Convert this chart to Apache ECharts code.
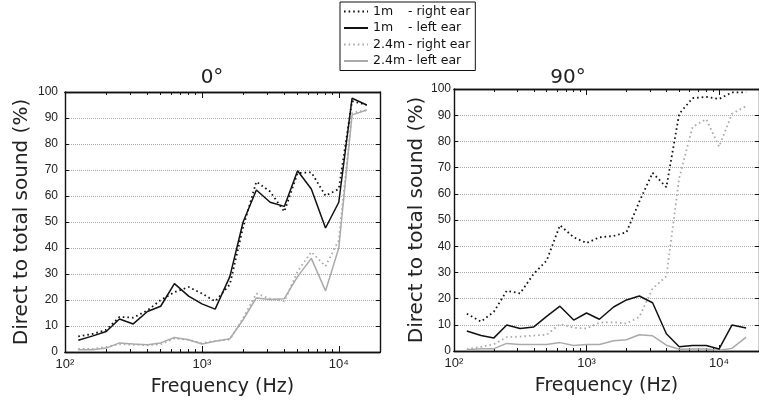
<!DOCTYPE html>
<html>
<head>
<meta charset="utf-8">
<script src="https://cdn.jsdelivr.net/npm/echarts@6/dist/echarts.min.js"></script>
<style>
  html, body { margin: 0; padding: 0; background: #fff; }
  #chart { width: 759px; height: 404px; }
</style>
</head>
<body>
<div id="chart"></div>
<script>
// third-octave band centres (Hz)
const freqs = [125, 160, 200, 250, 315, 400, 500, 630, 800, 1000, 1250, 1600,
  2000, 2500, 3150, 4000, 5000, 6300, 8000, 10000, 12500, 16000];

// 0 degrees
const right1m0 = [6, 7, 8.5, 13.5, 13.2, 16, 20, 23, 25, 22.5, 19.5, 26,
  48, 65.5, 61.7, 54, 68.8, 69.1, 60.1, 62.7, 96.5, 95];
const left1m0 = [4.5, 6.2, 7.9, 12.7, 10.8, 15.6, 17.6, 26.3, 21.5, 18.5, 16.5, 29,
  50, 62.3, 57.6, 56, 69.7, 62.7, 47.7, 57.6, 97.6, 95];
const right24m0 = [1.2, 1.2, 2, 3.0, 2.8, 2.6, 3.0, 5.2, 4.7, 3.4, 4.2, 4.8,
  13, 22.5, 20.5, 19.5, 31, 38.5, 33, 43, 92, 93];
const left24m0 = [0.9, 0.9, 1.5, 3.5, 3.1, 2.8, 3.5, 5.6, 4.7, 3.1, 4.1, 5.1,
  12.4, 20.8, 20.2, 20.5, 29, 36, 23.5, 40, 91.2, 93.1];

// 90 degrees
const right1m90 = [14.2, 11.2, 15, 23, 22, 29.5, 34.5, 48, 43.4, 41.2, 43.4, 43.9,
  45.3, 57, 68, 62.5, 90.5, 96.5, 97, 96.2, 98.7, 98.7];
const left1m90 = [7.6, 5.9, 5.0, 9.9, 8.6, 9.2, 13.2, 17.1, 11.8, 14.5, 12.1, 16.8,
  19.5, 21.0, 18.4, 6.6, 1.6, 2.1, 2.1, 0.8, 9.9, 8.8];
const right24m90 = [0.7, 1.6, 2.6, 5.3, 5.5, 5.9, 6.2, 10.3, 8.9, 8.6, 10.8, 11,
  10.5, 13, 23.8, 28.5, 66, 85.5, 88.5, 78, 90.5, 93.5];
const left24m90 = [0.5, 0.9, 0.9, 2.9, 2.5, 2.5, 2.5, 3.2, 2.1, 2.5, 2.5, 3.9,
  4.3, 6.2, 5.8, 2.2, 0.7, 0.8, 0.8, 0.3, 1.0, 5.3];

const seriesNames = ['1m - right ear', '1m - left ear', '2.4m - right ear', '2.4m - left ear'];
const panelTitles = ['0°', '90°'];
const majorTicks = [100, 1000, 10000];
const majorLabels = { 100: '10²', 1000: '10³', 10000: '10⁴' };
const minorTicks = [200, 300, 400, 500, 600, 700, 800, 900,
  2000, 3000, 4000, 5000, 6000, 7000, 8000, 9000];

const textFont = 'DejaVu Sans';
const numFont = 'Liberation Sans';

const grids = [
  { left: 65, top: 92, width: 315, height: 260 },
  { left: 454, top: 89, width: 315, height: 262 }
];

// each panel: bottom major (labels), bottom minor, top major, top minor
function xAxesFor(g) {
  const specs = [
    { position: 'bottom', len: 6, vals: majorTicks, label: true },
    { position: 'bottom', len: 3, vals: minorTicks },
    { position: 'top', len: 6, vals: majorTicks },
    { position: 'top', len: 3, vals: minorTicks }
  ];
  return specs.map(s => ({
    type: 'log', gridIndex: g, min: 100, max: 20000, position: s.position,
    splitLine: { show: false },
    axisLine: { show: true, lineStyle: { color: '#111', width: 1.4 } },
    axisTick: { show: true, inside: true, length: s.len, customValues: s.vals, lineStyle: { color: '#111', width: 1 } },
    axisLabel: s.label ? {
      customValues: majorTicks, margin: 6,
      formatter: v => majorLabels[Math.round(v)] || '',
      fontFamily: numFont, fontSize: 13, color: '#222'
    } : { show: false },
    name: s.label ? 'Frequency (Hz)' : '', nameLocation: 'middle', nameGap: 26,
    nameTextStyle: { fontFamily: textFont, fontSize: 19, color: '#222' }
  }));
}

function yAxesFor(g, labelMargin, nameGap) {
  return [
    {
      type: 'value', gridIndex: g, min: 0, max: 100, interval: 10, position: 'left',
      axisLine: { show: true, lineStyle: { color: '#111', width: 1.4 } },
      axisTick: { show: true, inside: true, length: 4, lineStyle: { color: '#111', width: 1 } },
      axisLabel: { margin: labelMargin, fontFamily: numFont, fontSize: 12, color: '#222' },
      splitLine: { show: true, lineStyle: { color: '#aaa', type: [1, 1], width: 1 } },
      name: 'Direct to total sound (%)', nameLocation: 'middle', nameGap: nameGap,
      nameTextStyle: { fontFamily: textFont, fontSize: 20, color: '#222' }
    },
    {
      type: 'value', gridIndex: g, min: 0, max: 100, interval: 10, position: 'right',
      axisLine: { show: true, lineStyle: { color: '#111', width: 1.4 } },
      axisTick: { show: true, inside: true, length: 4, lineStyle: { color: '#111', width: 1 } },
      axisLabel: { show: false },
      splitLine: { show: false }
    }
  ];
}

const styles = [
  { color: '#111', width: 1.8, type: [1.6, 3] },
  { color: '#111', width: 1.5, type: 'solid' },
  { color: '#aaa', width: 1.8, type: [1.6, 3] },
  { color: '#aaa', width: 1.5, type: 'solid' }
];

function pairs(vals) {
  return freqs.map((f, i) => [f, vals[i]]);
}

function panelSeries(g, sets) {
  return sets.map((vals, k) => ({
    name: seriesNames[k],
    type: 'line',
    xAxisIndex: g * 4,
    yAxisIndex: g * 2,
    data: pairs(vals),
    symbol: 'none',
    z: k >= 2 ? 2 : 3,
    lineStyle: { color: styles[k].color, width: styles[k].width, type: styles[k].type },
    itemStyle: { color: styles[k].color }
  }));
}

const chart = echarts.init(document.getElementById('chart'));
chart.setOption({
  backgroundColor: '#fff',
  animation: false,
  title: [
    { text: panelTitles[0], left: 207, top: 63, textAlign: 'center',
      textStyle: { fontFamily: textFont, fontSize: 20, fontWeight: 'normal', color: '#222' } },
    { text: panelTitles[1], left: 563, top: 63, textAlign: 'center',
      textStyle: { fontFamily: textFont, fontSize: 20, fontWeight: 'normal', color: '#222' } }
  ],
  legend: {
    data: seriesNames,
    orient: 'vertical',
    left: 340, top: 2,
    padding: [3, 5, 3, 3],
    itemGap: 3.5,
    itemWidth: 24, itemHeight: 15,
    itemStyle: { opacity: 0 },
    borderColor: '#111', borderWidth: 1,
    formatter: name => {
      const parts = name.split(' - ');
      return '{a|' + parts[0] + '}{b|- ' + parts[1] + '}';
    },
    textStyle: {
      fontFamily: textFont, fontSize: 12.5, color: '#111',
      rich: {
        a: { fontFamily: textFont, fontSize: 12.5, width: 35, color: '#111' },
        b: { fontFamily: textFont, fontSize: 12.5, color: '#111' }
      }
    }
  },
  grid: grids,
  xAxis: xAxesFor(0).concat(xAxesFor(1)),
  yAxis: yAxesFor(0, 7, 33).concat(yAxesFor(1, 3, 25)),
  series: panelSeries(0, [right1m0, left1m0, right24m0, left24m0])
    .concat(panelSeries(1, [right1m90, left1m90, right24m90, left24m90]))
});
</script>
</body>
</html>
